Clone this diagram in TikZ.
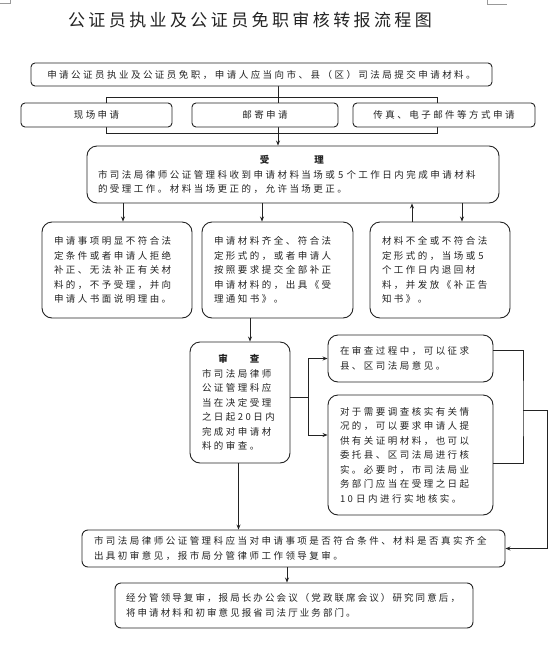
\documentclass[tikz,border=0pt]{standalone}
\usepackage{fontspec}
\setmainfont{Noto Sans CJK SC}
\newfontfamily\bodyfont[LetterSpace=26]{Noto Sans CJK SC}
\newfontfamily\titlefont[LetterSpace=20]{Noto Sans CJK SC}
\usetikzlibrary{positioning,arrows.meta,calc}
\pgfdeclarelayer{background}
\pgfsetlayers{background,main}
\definecolor{inkgray}{RGB}{35,35,35}

\begin{document}
\begin{tikzpicture}[x=1pt, y=-1pt,
    box/.style={rectangle, draw=inkgray, line width=0.9pt, fill=white,
                rounded corners=4pt, inner xsep=12pt, inner ysep=3pt, text=inkgray,
                font=\bodyfont\fontsize{9.5}{14.5}\selectfont},
    bigbox/.style={box, rounded corners=10pt, align=left},
    flow/.style={-{Stealth[length=5pt, width=4pt]}, line width=0.8pt, draw=inkgray},
    link/.style={line width=0.8pt, draw=inkgray}]
  \useasboundingbox (0,0) rectangle (558,646);
  % page corner marks
  \draw[black!40, line width=0.6pt] (0,3) -- (10,3) -- (10,0);
  \draw[black!40, line width=0.6pt] (487,0) -- (487,4) -- (507,4);

  \node[text=inkgray, font=\titlefont\fontsize{17}{20}\selectfont] (title) at (250,20) {公证员执业及公证员免职审核转报流程图};

  \node[box, minimum width=461pt, minimum height=23pt] (apply) at (261.5,74.5) {申请公证员执业及公证员免职，申请人应当向市、县（区）司法局提交申请材料。};
  \node[box, minimum width=151pt, minimum height=24pt] (onsite) at (96.5,115) {现场申请};
  \node[box, minimum width=146pt, minimum height=24pt] (mail) at (265,115) {邮寄申请};
  \node[box, minimum width=182pt, minimum height=24pt] (fax) at (444,115) {传真、电子邮件等方式申请};

  \node[bigbox, inner xsep=11pt, text width=390pt, minimum height=57pt] (accept) at (293,174.5)
    {\hspace*{\fill}\textbf{受\hspace{45pt}理}\hspace*{\fill}\null\\市司法局律师公证管理科收到申请材料当场或 5 个工作日内完成申请材料\\的受理工作。材料当场更正的，允许当场更正。};

  % three outcomes of acceptance
  \node[bigbox, text width=126pt, minimum height=96pt] (reject) at (117,270)
    {申请事项明显不符合法\\定条件或者申请人拒绝\\补正、无法补正有关材\\料的，不予受理，并向\\申请人书面说明理由。};
  \node[bigbox, text width=127pt, minimum height=96pt] (accepted) at (277.5,270)
    {申请材料齐全、符合法\\定形式的，或者申请人\\按照要求提交全部补正\\申请材料的，出具《受\\理通知书》。};
  \node[bigbox, text width=116pt, minimum height=96pt] (returned) at (440,270)
    {材料不全或不符合法\\定形式的，当场或 5\\个工作日内退回材\\料，并发放《补正告\\知书》。};

  \node[bigbox, text width=76pt, minimum height=121pt] (review) at (240,402.5)
    {\hspace*{\fill}\textbf{审\hspace{22pt}查}\hspace*{\fill}\null\\市司法局律师\\公证管理科应\\当在决定受理\\之日起20日内\\完成对申请材\\料的审查。};
  \node[bigbox, text width=141pt, minimum height=47pt] (opinion) at (410.5,358.5)
    {在审查过程中，可以征求\\县、区司法局意见。};
  \node[bigbox, text width=141pt, minimum height=120pt] (verify) at (410.5,455)
    {对于需要调查核实有关情\\况的，可以要求申请人提\\供有关证明材料，也可以\\委托县、区司法局进行核\\实。必要时，市司法局业\\务部门应当在受理之日起\\10 日内进行实地核实。};

  \node[bigbox, rounded corners=6pt, text width=399pt, minimum height=37pt] (prelim) at (293.5,548.5)
    {市司法局律师公证管理科应当对申请事项是否符合条件、材料是否真实齐全\\出具初审意见，报市局分管律师工作领导复审。};
  \node[bigbox, rounded corners=6pt, inner xsep=11pt, text width=336pt, minimum height=45pt] (final) at (294,605.5)
    {\addfontfeature{LetterSpace=22}经分管领导复审，报局长办公会议（党政联席会议）研究同意后，\\将申请材料和初审意见报省司法厅业务部门。};

  \coordinate (mid) at (278,0);
  \coordinate (brk-nw) at (106,97);
  \coordinate (brk-se) at (437,133);
  \begin{pgfonlayer}{background}
    \draw[link] (brk-nw) rectangle (brk-se);
    \draw[flow] (apply.south -| mid) -- (accept.north -| mid);
  \end{pgfonlayer}

  \coordinate (xa) at (123,0);
  \coordinate (xb) at (262,0);
  \coordinate (xc) at (412,0);
  \coordinate (xd) at (462,0);
  \coordinate (xe) at (250,0);
  \coordinate (xf) at (238.5,0);
  \coordinate (xg) at (287,0);
  \draw[flow] (accept.south -| xa) -- (reject.north -| xa);
  \draw[flow] (accept.south -| xb) -- (accepted.north -| xb);
  \draw[flow] (returned.north -| xc) -- (accept.south -| xc);
  \draw[flow] (accept.south -| xd) -- (returned.north -| xd);
  \draw[flow] (accepted.south -| xe) -- (review.north -| xe);
  \draw[flow] (review.south -| xf) -- (prelim.north -| xf);
  \draw[flow] (prelim.south -| xg) -- (final.north -| xg);

  % review branches
  \coordinate (fork) at (308,397);
  \coordinate (vy) at (0,435);
  \draw[link] (review.east |- fork) -- (fork);
  \draw[flow] (fork) |- (opinion.west);
  \draw[flow] (fork) |- (verify.west |- vy);

  \coordinate (ry1) at (0,350);
  \coordinate (ry2) at (0,463);
  \coordinate (join) at (523,410);
  \coordinate (outer) at (547,410);
  \draw[link] (opinion.east |- ry1) -| (join) |- (verify.east |- ry2);
  \draw[flow] (join) -- (outer) |- (prelim.east);
\end{tikzpicture}
\end{document}
